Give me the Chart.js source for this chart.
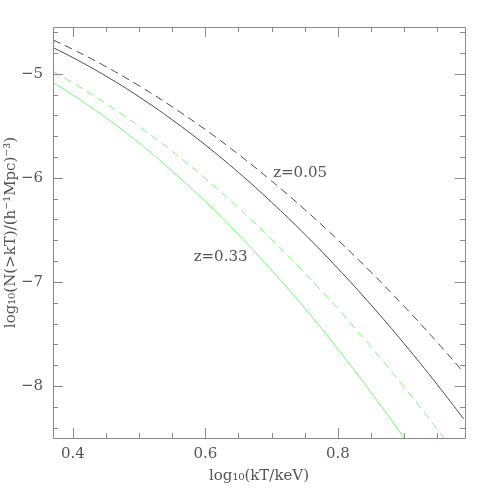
<!DOCTYPE html>
<html>
<head>
<meta charset="utf-8">
<script src="https://cdn.jsdelivr.net/npm/chart.js@4/dist/chart.umd.min.js"></script>
<style>
  html, body { margin: 0; padding: 0; background: #ffffff; }
  #wrap { width: 491px; height: 491px; }
</style>
</head>
<body>
<div id="wrap"><canvas id="c" width="491" height="491"></canvas></div>
<script>
// ---- data ----
const xValues = [0.37, 0.40, 0.45, 0.50, 0.55, 0.60, 0.65, 0.70, 0.75, 0.80, 0.85, 0.90, 0.95, 0.99];
const z005Dashed = [-4.674, -4.765, -4.931, -5.115, -5.317, -5.536, -5.774, -6.030, -6.304, -6.596, -6.906, -7.234, -7.580, -7.870];
const z005Solid  = [-4.748, -4.844, -5.022, -5.221, -5.442, -5.684, -5.948, -6.234, -6.541, -6.870, -7.220, -7.592, -7.986, -8.316];
const z033Dashed = [-4.978, -5.087, -5.286, -5.505, -5.745, -6.006, -6.288, -6.590, -6.914, -7.258, -7.623, -8.010, -8.416, -8.757];
const z033Solid  = [-5.083, -5.203, -5.422, -5.666, -5.934, -6.227, -6.544, -6.887, -7.253, -7.645, -8.061, -8.501, -8.966, -9.330];

const xTickLabels = [0.4, 0.6, 0.8];
const xMinorTicks = [0.40, 0.45, 0.50, 0.55, 0.60, 0.65, 0.70, 0.75, 0.80, 0.85, 0.90, 0.95];
const yTickLabels = [-8, -7, -6, -5];
const yMinorTicks = [-8.4, -8.2, -8.0, -7.8, -7.6, -7.4, -7.2, -7.0, -6.8, -6.6, -6.4, -6.2, -6.0, -5.8, -5.6, -5.4, -5.2, -5.0, -4.8, -4.6];

const labelTexts = ['z=0.05', 'z=0.33'];
const labelX = [0.743, 0.623];
const labelY = [-5.952, -6.757];

const xRange = [0.37, 0.992];
const yRange = [-8.5, -4.55];

// ---- chart ----
const FONT = '"DejaVu Serif", "Liberation Serif", serif';
const TEXT = '#555555';
const AXIS = '#8a8a8a';
const BLACK = '#4a4a4a';
const GREEN = 'rgb(110,250,110)';

function pts(ys) { return xValues.map((x, i) => ({ x: x, y: ys[i] })); }

const framePlugin = {
  id: 'frame',
  afterDatasetsDraw(chart) {
    const { ctx, chartArea: a, scales: { x, y } } = chart;
    ctx.save();
    ctx.strokeStyle = AXIS;
    ctx.lineWidth = 1;
    ctx.beginPath();
    ctx.rect(Math.round(a.left) + 0.5, Math.round(a.top) + 0.5, Math.round(a.right - a.left), Math.round(a.bottom - a.top));
    ctx.stroke();
    const tick = (vals, len) => {
      vals.forEach(v => {
        const px = Math.round(x.getPixelForValue(v)) + 0.5;
        ctx.moveTo(px, a.bottom); ctx.lineTo(px, a.bottom - len);
        ctx.moveTo(px, a.top); ctx.lineTo(px, a.top + len);
      });
    };
    const ytick = (vals, len) => {
      vals.forEach(v => {
        const py = Math.round(y.getPixelForValue(v)) + 0.5;
        ctx.moveTo(a.left, py); ctx.lineTo(a.left + len, py);
        ctx.moveTo(a.right, py); ctx.lineTo(a.right - len, py);
      });
    };
    ctx.beginPath();
    tick(xMinorTicks, 5);
    tick(xTickLabels, 10);
    ytick(yMinorTicks, 5);
    ytick(yTickLabels, 10);
    ctx.stroke();

    ctx.fillStyle = TEXT;
    ctx.font = '15px ' + FONT;
    ctx.textAlign = 'center';
    ctx.textBaseline = 'middle';
    labelTexts.forEach((t, i) => {
      ctx.fillText(t, x.getPixelForValue(labelX[i]), y.getPixelForValue(labelY[i]));
    });
    ctx.restore();
  }
};

new Chart(document.getElementById('c'), {
  type: 'line',
  data: {
    datasets: [
      { label: 'z=0.05 dashed', data: pts(z005Dashed), borderColor: BLACK, borderWidth: 1, borderDash: [8, 5], pointRadius: 0, tension: 0.4, fill: false },
      { label: 'z=0.05 solid', data: pts(z005Solid), borderColor: BLACK, borderWidth: 1, pointRadius: 0, tension: 0.4, fill: false },
      { label: 'z=0.33 dashed', data: pts(z033Dashed), borderColor: GREEN, borderWidth: 1, borderDash: [8, 5], pointRadius: 0, tension: 0.4, fill: false },
      { label: 'z=0.33 solid', data: pts(z033Solid), borderColor: GREEN, borderWidth: 1, pointRadius: 0, tension: 0.4, fill: false }
    ]
  },
  options: {
    responsive: false,
    animation: false,
    events: [],
    layout: { padding: { top: 27, right: 26, left: 0, bottom: 0 } },
    plugins: { legend: { display: false }, tooltip: { enabled: false } },
    scales: {
      x: {
        type: 'linear',
        min: xRange[0], max: xRange[1],
        grid: { display: false, drawTicks: false },
        border: { display: false },
        afterBuildTicks(s) { s.ticks = xTickLabels.map(v => ({ value: v })); },
        afterFit(s) { s.height = 53; },
        ticks: { padding: 7, color: TEXT, font: { family: FONT, size: 15 }, maxRotation: 0, callback: v => v.toFixed(1) },
        title: { display: true, text: 'log₁₀(kT/keV)', color: TEXT, font: { family: FONT, size: 15 }, padding: { top: 0, bottom: 6 } }
      },
      y: {
        type: 'linear',
        min: yRange[0], max: yRange[1],
        grid: { display: false, drawTicks: false },
        border: { display: false },
        afterBuildTicks(s) { s.ticks = yTickLabels.map(v => ({ value: v })); },
        afterFit(s) { s.width = 53; },
        ticks: { padding: 10, color: TEXT, font: { family: FONT, size: 15 }, callback: v => '\u2212' + Math.abs(v) },
        title: { display: true, text: 'log₁₀(N(>kT)/(h⁻¹Mpc)⁻³)', color: TEXT, font: { family: FONT, size: 15 }, padding: { top: 2, bottom: 0 } }
      }
    }
  },
  plugins: [framePlugin]
});
</script>
</body>
</html>
